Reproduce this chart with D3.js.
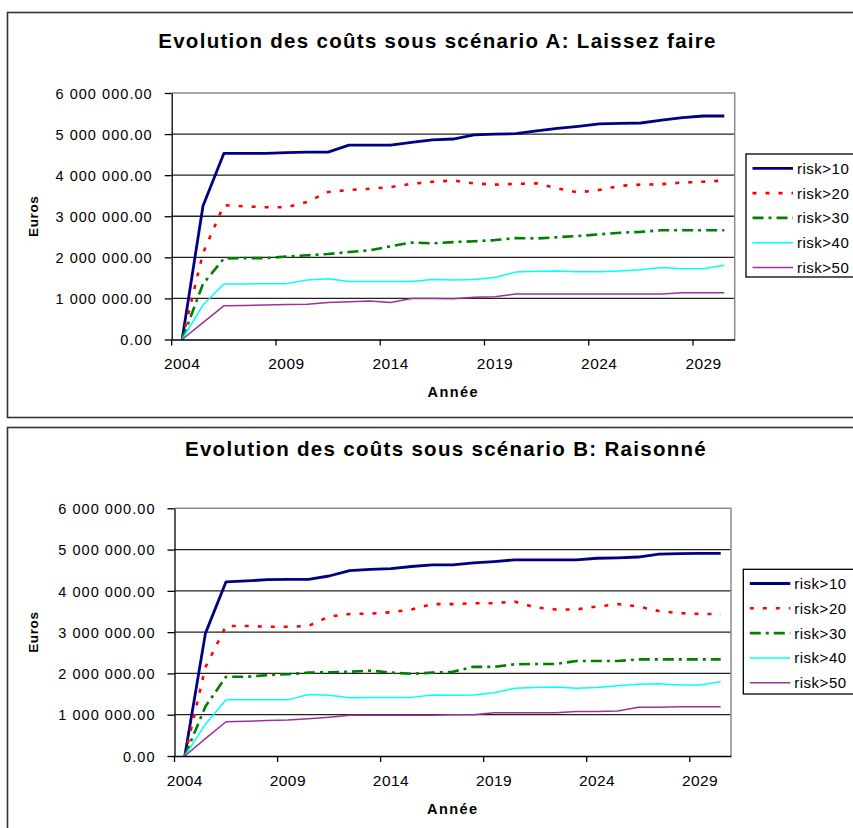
<!DOCTYPE html>
<html>
<head>
<meta charset="utf-8">
<script src="https://cdn.jsdelivr.net/npm/d3@7"></script>
<style>
  html, body { margin: 0; padding: 0; background: #fff; }
  svg { display: block; }
</style>
</head>
<body>
<svg id="chart" width="853" height="828"></svg>
<script>
// Categories (years) and the labelled years on the x axis
const years = [2004, 2005, 2006, 2007, 2008, 2009, 2010, 2011, 2012, 2013, 2014, 2015, 2016, 2017,
               2018, 2019, 2020, 2021, 2022, 2023, 2024, 2025, 2026, 2027, 2028, 2029, 2030];
const yearLabels = [2004, 2009, 2014, 2019, 2024, 2029];
const yTicks = [0, 1000000, 2000000, 3000000, 4000000, 5000000, 6000000];
const seriesNames = ["risk>10", "risk>20", "risk>30", "risk>40", "risk>50"];

// Scenario A: Laissez faire (euros)
const a_risk10 = [0, 3250000, 4530000, 4530000, 4530000, 4550000, 4560000, 4560000, 4730000, 4730000, 4730000, 4800000, 4860000, 4880000,
                  4980000, 5000000, 5010000, 5080000, 5140000, 5190000, 5250000, 5260000, 5270000, 5340000, 5400000, 5440000, 5440000];
const a_risk20 = [0, 2100000, 3270000, 3240000, 3220000, 3220000, 3350000, 3590000, 3640000, 3670000, 3710000, 3790000, 3840000, 3870000,
                  3800000, 3770000, 3790000, 3800000, 3680000, 3580000, 3640000, 3740000, 3770000, 3780000, 3820000, 3840000, 3870000];
const a_risk30 = [0, 1350000, 1970000, 1980000, 1980000, 2020000, 2050000, 2080000, 2130000, 2170000, 2270000, 2360000, 2340000, 2370000,
                  2390000, 2420000, 2470000, 2460000, 2490000, 2520000, 2560000, 2600000, 2620000, 2660000, 2660000, 2660000, 2660000];
const a_risk40 = [0, 840000, 1350000, 1350000, 1360000, 1360000, 1450000, 1480000, 1410000, 1410000, 1410000, 1410000, 1460000, 1450000,
                  1460000, 1510000, 1640000, 1660000, 1670000, 1650000, 1650000, 1670000, 1700000, 1750000, 1720000, 1720000, 1810000];
const a_risk50 = [0, 410000, 820000, 830000, 840000, 850000, 860000, 900000, 920000, 940000, 900000, 1000000, 1000000, 990000,
                  1030000, 1040000, 1110000, 1110000, 1110000, 1110000, 1110000, 1110000, 1110000, 1110000, 1140000, 1140000, 1140000];

// Scenario B: Raisonné (euros)
const b_risk10 = [0, 2970000, 4220000, 4240000, 4270000, 4280000, 4280000, 4360000, 4490000, 4520000, 4540000, 4590000, 4630000, 4630000,
                  4680000, 4710000, 4750000, 4750000, 4750000, 4750000, 4790000, 4800000, 4820000, 4890000, 4900000, 4910000, 4910000];
const b_risk20 = [0, 2150000, 3150000, 3150000, 3130000, 3130000, 3150000, 3380000, 3440000, 3450000, 3480000, 3550000, 3680000, 3680000,
                  3700000, 3700000, 3740000, 3600000, 3550000, 3550000, 3620000, 3680000, 3620000, 3510000, 3460000, 3440000, 3440000];
const b_risk30 = [0, 1200000, 1920000, 1920000, 1960000, 1980000, 2020000, 2030000, 2040000, 2070000, 2020000, 1990000, 2020000, 2040000,
                  2160000, 2160000, 2220000, 2230000, 2230000, 2300000, 2300000, 2300000, 2340000, 2340000, 2340000, 2340000, 2340000];
const b_risk40 = [0, 770000, 1360000, 1360000, 1360000, 1360000, 1490000, 1470000, 1410000, 1420000, 1420000, 1420000, 1480000, 1470000,
                  1480000, 1530000, 1640000, 1660000, 1670000, 1640000, 1660000, 1700000, 1740000, 1750000, 1720000, 1720000, 1800000];
const b_risk50 = [0, 420000, 830000, 840000, 860000, 870000, 900000, 940000, 990000, 990000, 990000, 990000, 990000, 1000000,
                  1000000, 1050000, 1050000, 1050000, 1050000, 1080000, 1080000, 1090000, 1180000, 1180000, 1190000, 1190000, 1190000];

// Line styles per series
const seriesStyles = [
  { color: "#000080", width: 2.8, dash: null },
  { color: "#ff0000", width: 2.6, dash: "4,9" },
  { color: "#008000", width: 2.6, dash: "11,5,3,5" },
  { color: "#00ffff", width: 1.5, dash: null },
  { color: "#993399", width: 1.5, dash: null }
];

const FONT = "'Liberation Sans', Arial, Helvetica, sans-serif";
const fmtEuro = v => d3.format(",.2f")(v).replace(/,/g, " ");

const svg = d3.select("#chart");

function drawChart(cfg) {
  const g = svg.append("g");

  const x = d3.scaleBand().domain(years).range([cfg.left, cfg.right]).padding(0);
  const y = d3.scaleLinear().domain([0, 6000000]).range([cfg.bottom, cfg.top]);
  const bw = x.bandwidth();

  // Outer chart frame
  g.append("rect")
    .attr("x", 7.5).attr("y", cfg.frameTop)
    .attr("width", 900).attr("height", cfg.frameHeight)
    .attr("fill", "#fff").attr("stroke", "#333").attr("stroke-width", 1.6);

  // Title
  g.append("text")
    .attr("x", cfg.titleX).attr("y", cfg.titleY)
    .attr("text-anchor", "middle")
    .attr("font-family", FONT).attr("font-weight", "bold")
    .attr("font-size", 20.5).attr("letter-spacing", 1.3)
    .attr("fill", "#000")
    .text(cfg.title);

  // Horizontal gridlines
  g.append("g").selectAll("line")
    .data(yTicks.filter(v => v > 0 && v < 6000000))
    .join("line")
    .attr("x1", cfg.left).attr("x2", cfg.right)
    .attr("y1", d => y(d)).attr("y2", d => y(d))
    .attr("stroke", "#222").attr("stroke-width", 1.3);

  // Plot area border (top and right)
  g.append("path")
    .attr("d", `M${cfg.left},${y(6000000)}H${cfg.right}V${y(0)}`)
    .attr("fill", "none").attr("stroke", "#8a8a8a").attr("stroke-width", 1.5);

  // Series lines
  const line = d3.line()
    .x((d, i) => x(years[i]) + bw / 2)
    .y(d => y(d));

  cfg.series.forEach((vals, k) => {
    const st = seriesStyles[k];
    g.append("path")
      .datum(vals)
      .attr("d", line)
      .attr("fill", "none")
      .attr("stroke", st.color)
      .attr("stroke-width", st.width)
      .attr("stroke-linejoin", "round")
      .attr("stroke-dasharray", st.dash);
  });

  // X axis: ticks on category boundaries, labels centred on categories
  const xAxis = g.append("g")
    .attr("transform", `translate(0,${y(0)})`)
    .call(d3.axisBottom(x).tickValues(yearLabels).tickSize(6).tickSizeOuter(0));
  xAxis.select(".domain").attr("stroke", "#000").attr("stroke-width", 1.3);
  xAxis.selectAll(".tick line").attr("x1", -bw / 2).attr("x2", -bw / 2)
    .attr("stroke", "#000").attr("stroke-width", 1.3);
  xAxis.selectAll(".tick text")
    .attr("y", 29.5).attr("dy", null)
    .attr("font-family", FONT).attr("font-size", 15.5)
    .attr("letter-spacing", 0.4).attr("fill", "#000");

  // Y axis
  const yAxis = g.append("g")
    .attr("transform", `translate(${cfg.left},0)`)
    .call(d3.axisLeft(y).tickValues(yTicks).tickSize(7).tickSizeOuter(0).tickFormat(fmtEuro));
  yAxis.select(".domain").attr("stroke", "#000").attr("stroke-width", 1.3);
  yAxis.selectAll(".tick line").attr("stroke", "#000").attr("stroke-width", 1.3);
  yAxis.selectAll(".tick text")
    .attr("x", -19).attr("dy", "0.36em")
    .attr("font-family", FONT).attr("font-size", 14.5)
    .attr("letter-spacing", 1.05).attr("fill", "#000");

  // Axis titles
  g.append("text")
    .attr("x", (cfg.left + cfg.right) / 2).attr("y", y(0) + 57.5)
    .attr("text-anchor", "middle")
    .attr("font-family", FONT).attr("font-weight", "bold")
    .attr("font-size", 14.5).attr("letter-spacing", 1.4)
    .text("Année");

  g.append("text")
    .attr("transform", `translate(33,${(cfg.top + cfg.bottom) / 2}) rotate(-90)`)
    .attr("text-anchor", "middle").attr("dy", "0.36em")
    .attr("font-family", FONT).attr("font-weight", "bold")
    .attr("font-size", 13.5).attr("letter-spacing", 0.6)
    .text("Euros");

  // Legend
  const lg = g.append("g");
  lg.append("rect")
    .attr("x", cfg.legendX).attr("y", cfg.legendY)
    .attr("width", 200).attr("height", cfg.legendH)
    .attr("fill", "#fff").attr("stroke", "#000").attr("stroke-width", 1.3);
  seriesNames.forEach((name, k) => {
    const st = seriesStyles[k];
    const ry = cfg.legendRow0 + k * cfg.legendStep;
    lg.append("line")
      .attr("x1", cfg.legendX + 6.5).attr("x2", cfg.legendX + 47)
      .attr("y1", ry).attr("y2", ry)
      .attr("stroke", st.color).attr("stroke-width", st.width)
      .attr("stroke-dasharray", st.dash);
    lg.append("text")
      .attr("x", cfg.legendX + 51).attr("y", ry).attr("dy", "0.36em")
      .attr("font-family", FONT).attr("font-size", 15)
      .attr("letter-spacing", 0.5).attr("fill", "#000")
      .text(name);
  });
}

drawChart({
  title: "Evolution des coûts sous scénario A: Laissez faire",
  titleX: 437.5, titleY: 48,
  frameTop: 12.5, frameHeight: 405,
  left: 171.7, right: 734.7, top: 93, bottom: 339.5,
  legendX: 746, legendY: 154, legendH: 123,
  legendRow0: 168.3, legendStep: 24.8,
  series: [a_risk10, a_risk20, a_risk30, a_risk40, a_risk50]
});

drawChart({
  title: "Evolution des coûts sous scénario B: Raisonné",
  titleX: 446, titleY: 456,
  frameTop: 427.5, frameHeight: 420,
  left: 174.5, right: 731, top: 508.3, bottom: 756,
  legendX: 743.3, legendY: 569.3, legendH: 124.7,
  legendRow0: 583.5, legendStep: 24.8,
  series: [b_risk10, b_risk20, b_risk30, b_risk40, b_risk50]
});
</script>
</body>
</html>
